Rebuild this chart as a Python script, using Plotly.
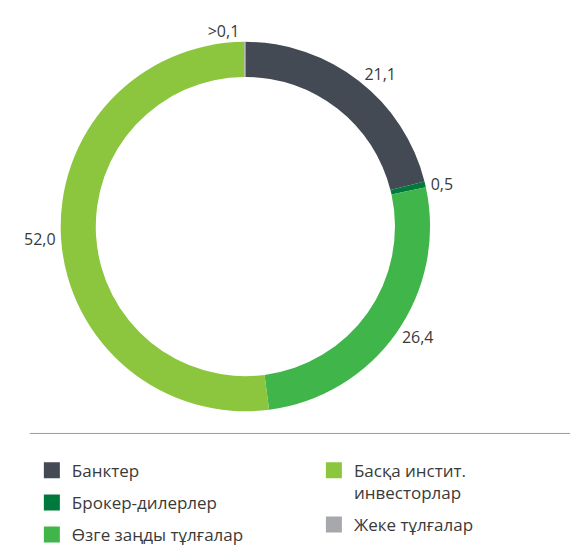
import plotly.graph_objects as go

W, H = 578, 545

# --- data ---
categories = ["Банктер", "Брокер-дилерлер", "Өзге заңды тұлғалар",
              "Басқа инстит.<br>инвесторлар", "Жеке тұлғалар"]
shares = [21.1, 0.5, 26.4, 52.0, 0.1]
value_labels = ["21,1", "0,5", "26,4", "52,0", ">0,1"]
colors = ["#434a54", "#00793d", "#40b54a", "#8cc63f", "#a6a8ab"]

# legend columns (which categories go to which column)
col1 = [0, 1, 2]
col2 = [3, 4]

FONT = "Open Sans"
TXT = "#3a3a3a"


def px_x(p):
    return p / W


def px_y(p):
    return 1 - p / H


fig = go.Figure()

fig.add_trace(go.Pie(
    labels=categories,
    values=shares,
    text=value_labels,
    textinfo="text",
    textposition="outside",
    textfont=dict(size=16, color=TXT, family=FONT),
    hole=0.81,
    sort=False,
    direction="clockwise",
    rotation=0,
    marker=dict(colors=colors, line=dict(width=0)),
    domain=dict(x=[px_x(44), px_x(426)], y=[px_y(417), px_y(35)]),
    showlegend=False,
))

# legend entries as square markers, split into two columns
for i in range(len(categories)):
    fig.add_trace(go.Scatter(
        x=[None], y=[None],
        mode="markers",
        marker=dict(symbol="square", size=16, color=colors[i]),
        name=categories[i],
        legendgroup=f"g{i}",
        legend="legend" if i in col1 else "legend2",
        hoverinfo="skip",
    ))

legend_style = dict(
    font=dict(size=17, color=TXT, family=FONT),
    bgcolor="rgba(0,0,0,0)",
    yanchor="top",
    xanchor="left",
    tracegroupgap=7,
    itemsizing="trace",
    valign="top",
    orientation="v",
)

fig.update_layout(
    width=W,
    height=H,
    margin=dict(l=0, r=0, t=0, b=0),
    paper_bgcolor="white",
    plot_bgcolor="white",
    font=dict(family=FONT, color=TXT),
    xaxis=dict(visible=False),
    yaxis=dict(visible=False),
    legend=dict(x=px_x(20), y=px_y(460), **legend_style),
    legend2=dict(x=px_x(304), y=px_y(460), **legend_style),
    shapes=[dict(
        type="line", xref="paper", yref="paper",
        x0=px_x(18), x1=1, y0=px_y(440), y1=px_y(440),
        line=dict(color="#9a9a9a", width=1),
    )],
)

fig.write_html("out.html")
